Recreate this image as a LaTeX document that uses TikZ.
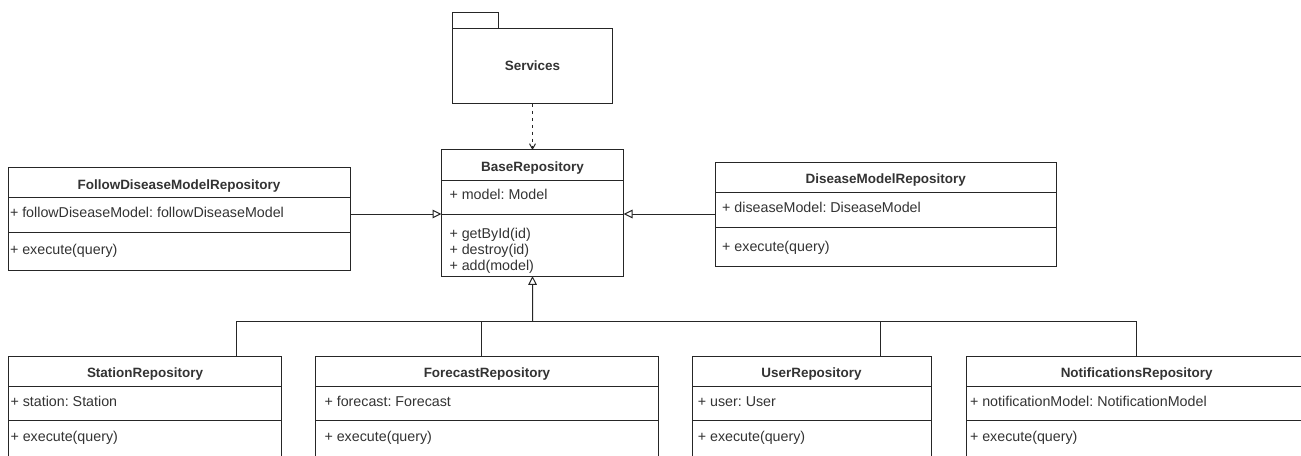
\documentclass[tikz,border=0pt]{standalone}
\usepackage{fontspec}
\setmainfont{Liberation Sans}
\usetikzlibrary{arrows.meta}
\definecolor{edge}{gray}{0.15}
\definecolor{ink}{gray}{0.2}
\frenchspacing
\begin{document}
\begin{tikzpicture}[x=0.75pt,y=-0.75pt,line width=0.75pt,
  comp/.style n args={2}{draw=edge,inner sep=0pt,outer sep=0pt,anchor=north west,
    minimum width={(#1)*0.75pt},minimum height={(#2)*0.75pt}},
  cname/.style={inner sep=0pt,text=ink,font=\fontsize{10.1}{12}\selectfont\bfseries,
    text height=1.5ex,text depth=.25ex},
  member/.style={inner sep=0pt,anchor=west,text=ink,font=\fontsize{10.7}{12}\selectfont,
    text height=1.5ex,text depth=.25ex},
  gen/.style={draw=edge,-{Triangle[open,length=6.6pt,width=6.4pt,fill=white]}},
  dep/.style={draw=edge,dash pattern=on 2.6pt off 2.6pt,-{Straight Barb[length=4pt,width=4.5pt]}}]
\useasboundingbox (0,0) rectangle (1301,456);
\clip (0,0) rectangle (1301,456);
\fill[white] (0,0) rectangle (1301,456);

% package
\node[comp={159.6}{75.7},font=\fontsize{10.1}{12}\selectfont\bfseries,text=ink]
  (services) at (452.7,28.3) {Services};
\node[comp={45.6}{15.6},anchor=south west] (servicesTab) at (services.north west) {};

% BaseRepository
\node[comp={182.4}{30.3}] (baseHead) at (441.3,150) {};
\node[comp={182.4}{33.7}] (baseAttr) at (baseHead.south west) {};
\node[comp={182.4}{62}] (baseOps) at (baseAttr.south west) {};
\node[cname] (baseName) at (532.5,166.7) {BaseRepository};
\node[member] (baseModel) at (449,195) {+ model: Model};
\node[member] (baseGet) at (449,234.3) {+ getById(id)};
\node[member] (baseDestroy) at (449,250) {+ destroy(id)};
\node[member] (baseAdd) at (449,266) {+ add(model)};

% FollowDiseaseModelRepository
\node[comp={341.7}{30}] (followHead) at (8.3,167.3) {};
\node[comp={341.7}{35}] (followAttr) at (followHead.south west) {};
\node[comp={341.7}{37.7}] (followOps) at (followAttr.south west) {};
\node[cname] (followName) at (179,185) {FollowDiseaseModelRepository};
\node[member] (followField) at (9.5,213.3) {+ followDiseaseModel: followDiseaseModel};
\node[member] (followExec) at (9.5,250) {+ execute(query)};

% DiseaseModelRepository
\node[comp={341.7}{30}] (diseaseHead) at (715,162.7) {};
\node[comp={341.7}{34.6}] (diseaseAttr) at (diseaseHead.south west) {};
\node[comp={341.7}{38.7}] (diseaseOps) at (diseaseAttr.south west) {};
\node[cname] (diseaseName) at (885.8,179.3) {DiseaseModelRepository};
\node[member] (diseaseField) at (721.7,208.3) {+ diseaseModel: DiseaseModel};
\node[member] (diseaseExec) at (721.7,246.7) {+ execute(query)};

% StationRepository
\node[comp={273.4}{30}] (stationHead) at (8.3,356.7) {};
\node[comp={273.4}{34}] (stationAttr) at (stationHead.south west) {};
\node[comp={273.4}{60}] (stationOps) at (stationAttr.south west) {};
\node[cname] (stationName) at (145,373.5) {StationRepository};
\node[member] (stationField) at (10,401.7) {+ station: Station};
\node[member] (stationExec) at (10,437.5) {+ execute(query)};

% ForecastRepository
\node[comp={342.6}{30}] (forecastHead) at (315.7,356.7) {};
\node[comp={342.6}{34}] (forecastAttr) at (forecastHead.south west) {};
\node[comp={342.6}{60}] (forecastOps) at (forecastAttr.south west) {};
\node[cname] (forecastName) at (487,373.5) {ForecastRepository};
\node[member] (forecastField) at (324,401.7) {+ forecast: Forecast};
\node[member] (forecastExec) at (324,437.5) {+ execute(query)};

% UserRepository
\node[comp={238.7}{30}] (userHead) at (692.3,356.7) {};
\node[comp={238.7}{34}] (userAttr) at (userHead.south west) {};
\node[comp={238.7}{60}] (userOps) at (userAttr.south west) {};
\node[cname] (userName) at (811.5,373.5) {UserRepository};
\node[member] (userField) at (697.3,401.7) {+ user: User};
\node[member] (userExec) at (697.3,437.5) {+ execute(query)};

% NotificationsRepository
\node[comp={341.4}{30}] (notifHead) at (966,356.7) {};
\node[comp={341.4}{34}] (notifAttr) at (notifHead.south west) {};
\node[comp={341.4}{60}] (notifOps) at (notifAttr.south west) {};
\node[cname] (notifName) at (1136.7,373.5) {NotificationsRepository};
\node[member] (notifField) at (969.5,401.7) {+ notificationModel: NotificationModel};
\node[member] (notifExec) at (969.5,437.5) {+ execute(query)};

% dependency
\draw[dep] (services.south) -- (baseHead.north);

% side generalisations
\draw[gen] (followAttr.east |- baseAttr.south west) -- (baseAttr.south west);
\draw[gen] (diseaseAttr.west |- baseAttr.south east) -- (baseAttr.south east);

% generalisation tree below the base class
\coordinate (bus) at (532.5,321.7);
\draw[gen] (bus) -- (baseOps.south);
\draw[edge] (stationHead.north -| 236.3,0) |- (bus) -| (notifHead.north -| 1136.7,0);
\draw[edge] (forecastHead.north -| 481,0) -- (481,0 |- bus);
\draw[edge] (userHead.north -| 880,0) -- (880,0 |- bus);
\end{tikzpicture}
\end{document}
